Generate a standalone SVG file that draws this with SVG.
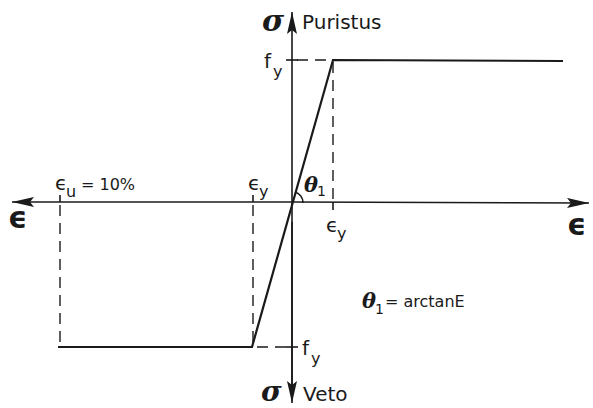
<svg xmlns="http://www.w3.org/2000/svg" width="593" height="408" viewBox="0 0 593 408">
<defs>
<marker id="ah" viewBox="0 0 22 10" refX="22" refY="5" markerWidth="22" markerHeight="10" markerUnits="userSpaceOnUse" orient="auto">
<path d="M0,0 L22,5 L0,10 L4,5 Z" fill="#1a1a1a"/>
</marker>
<style>
.ax{stroke:#1a1a1a;stroke-width:1.6;fill:none}
.ln{stroke:#1a1a1a;stroke-width:2.2;fill:none}
.ds{stroke:#1a1a1a;stroke-width:1.4;fill:none;stroke-dasharray:11,7}
.t{font-family:"DejaVu Sans","Liberation Sans",sans-serif;fill:#1a1a1a}
.b{font-family:"DejaVu Sans","Liberation Sans",sans-serif;font-weight:bold;fill:#1a1a1a}
.s{font-family:"DejaVu Serif","Liberation Serif",serif;font-style:italic;font-weight:bold;fill:#1a1a1a}
</style>
</defs>
<rect width="593" height="408" fill="#fff"/>
<g id="connectors">
<line class="ax" x1="292" y1="392" x2="292" y2="12" marker-end="url(#ah)"/>
<line class="ax" x1="292" y1="222" x2="292" y2="403" marker-end="url(#ah)"/>
<line class="ax" x1="292" y1="202" x2="12" y2="202" marker-end="url(#ah)"/>
<line class="ax" x1="292" y1="202" x2="589" y2="203" marker-end="url(#ah)"/>
<polyline class="ln" points="58,347 252,347 333,60 563,61"/>
<line class="ds" x1="292" y1="60" x2="333" y2="60" stroke-dasharray="8,6" stroke-dashoffset="-5"/>
<line class="ds" x1="333" y1="62" x2="333" y2="200"/>
<line class="ds" x1="252" y1="347" x2="292" y2="347" stroke-dasharray="8,6" stroke-dashoffset="-5"/>
<line class="ds" x1="60" y1="205" x2="60" y2="345"/>
<line class="ds" x1="253" y1="205" x2="253" y2="345"/>
<line class="ax" x1="286" y1="60" x2="298" y2="60"/>
<line class="ax" x1="286" y1="347" x2="298" y2="347"/>
<line class="ax" x1="60" y1="195" x2="60" y2="202"/>
<line class="ax" x1="253" y1="195" x2="253" y2="202"/>
<line class="ax" x1="333" y1="202" x2="333" y2="210"/>
<path class="ax" d="M303,203 A11,11 0 0 0 295,192"/>
</g>
<g id="labels">
<text class="s" x="262" y="31" font-size="30">σ</text>
<text class="t" x="302" y="29" font-size="20">Puristus</text>
<text class="s" x="261" y="401" font-size="28">σ</text>
<text class="t" x="303" y="401" font-size="20">Veto</text>
<text class="t" x="264" y="68" font-size="20">f</text><text class="t" x="273" y="77" font-size="16">y</text>
<text class="t" x="302" y="355" font-size="20">f</text><text class="t" x="311" y="364" font-size="16">y</text>
<text class="b" x="8" y="228" font-size="30">ϵ</text>
<text class="b" x="567" y="235" font-size="30">ϵ</text>
<text class="t" x="55" y="190" font-size="20">ϵ</text><text class="t" x="66" y="197" font-size="16">u</text>
<text class="t" x="81" y="190" font-size="16">= 10%</text>
<text class="t" x="248" y="190" font-size="20">ϵ</text><text class="t" x="259" y="197" font-size="16">y</text>
<text class="t" x="326" y="232" font-size="20">ϵ</text><text class="t" x="337" y="239" font-size="16">y</text>
<text class="s" x="304" y="192" font-size="21">θ</text><text class="t" x="317" y="196" font-size="14">1</text>
<text class="s" x="362" y="308" font-size="21">θ</text><text class="t" x="375" y="314" font-size="14">1</text>
<text class="t" x="385" y="307" font-size="16">= arctanE</text>
</g>
</svg>
